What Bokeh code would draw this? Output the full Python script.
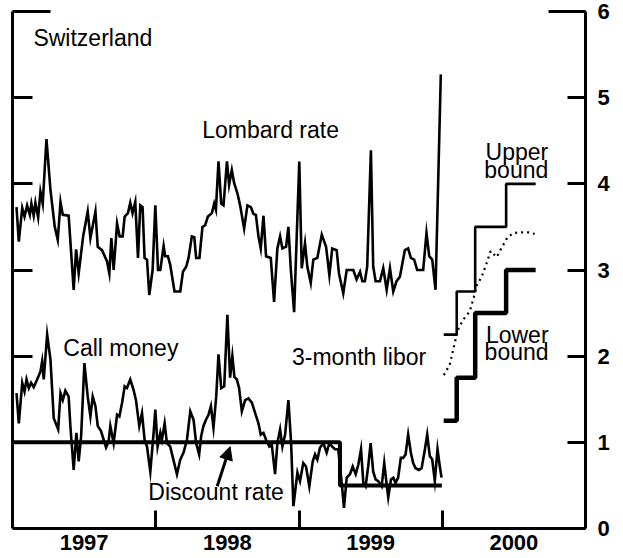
from bokeh.plotting import figure
from bokeh.models import LinearAxis, FixedTicker, Range1d, Arrow, NormalHead
from bokeh.core.properties import value
from bokeh.embed import file_html
from bokeh.resources import INLINE

FONT = "Liberation Sans"

# ---- data (decimal years, percent) ----
lombard_t = [1997.028, 1997.044, 1997.068, 1997.084, 1997.102, 1997.121, 1997.132, 1997.148, 1997.160, 1997.179,
             1997.195, 1997.211, 1997.237, 1997.265, 1997.295, 1997.316, 1997.335, 1997.351, 1997.392, 1997.427,
             1997.444, 1997.462, 1997.493, 1997.525, 1997.544, 1997.579, 1997.595, 1997.625, 1997.660, 1997.676,
             1997.690, 1997.706, 1997.730, 1997.748, 1997.769, 1997.783, 1997.806, 1997.822, 1997.838, 1997.857,
             1997.876, 1997.892, 1997.908, 1997.922, 1997.939, 1997.955, 1997.978, 1997.997, 1998.016, 1998.032,
             1998.055, 1998.066, 1998.085, 1998.101, 1998.131, 1998.171, 1998.190, 1998.213, 1998.229, 1998.252,
             1998.269, 1998.282, 1998.305, 1998.326, 1998.345, 1998.364, 1998.392, 1998.408, 1998.420, 1998.438,
             1998.457, 1998.473, 1998.497, 1998.512, 1998.531, 1998.547, 1998.570, 1998.589, 1998.617, 1998.640,
             1998.664, 1998.682, 1998.699, 1998.717, 1998.733, 1998.752, 1998.770, 1998.803, 1998.826, 1998.849,
             1998.868, 1998.884, 1998.910, 1998.926, 1998.943, 1998.966, 1999.002, 1999.019, 1999.042, 1999.058,
             1999.082, 1999.100, 1999.128, 1999.159, 1999.189, 1999.212, 1999.232, 1999.263, 1999.279, 1999.309,
             1999.333, 1999.379, 1999.402, 1999.426, 1999.442, 1999.460, 1999.476, 1999.502, 1999.518, 1999.535,
             1999.565, 1999.588, 1999.612, 1999.635, 1999.658, 1999.681, 1999.704, 1999.739, 1999.762, 1999.781,
             1999.804, 1999.825, 1999.867, 1999.890, 1999.909, 1999.930, 1999.953, 1999.990]
lombard_v = [3.73, 3.33, 3.72, 3.62, 3.75, 3.64, 3.77, 3.63, 3.78, 3.61,
             3.91, 3.77, 4.52, 3.93, 3.50, 3.35, 3.79, 3.64, 3.63, 2.77,
             3.24, 2.96, 3.39, 3.68, 3.37, 3.68, 3.27, 3.23, 3.10, 2.96,
             3.37, 3.00, 3.54, 3.39, 3.39, 3.62, 3.66, 3.78, 3.66, 3.79,
             3.14, 3.75, 3.73, 3.14, 3.12, 2.71, 3.00, 3.75, 3.00, 3.00,
             3.28, 3.16, 3.16, 3.06, 2.75, 2.75, 2.98, 3.04, 3.14, 3.39,
             3.38, 3.14, 3.14, 3.50, 3.52, 3.62, 3.66, 3.77, 3.70, 4.26,
             3.77, 3.75, 4.26, 3.99, 4.16, 4.01, 3.89, 3.75, 3.48, 3.75,
             3.73, 3.65, 3.64, 3.39, 3.25, 3.63, 3.16, 3.14, 2.63, 3.25,
             3.39, 3.25, 3.27, 3.50, 3.00, 2.51, 4.26, 3.02, 3.31, 3.04,
             2.85, 3.12, 3.14, 3.41, 3.27, 2.94, 3.25, 3.23, 2.96, 2.73,
             3.00, 3.00, 2.89, 2.98, 2.87, 2.87, 3.04, 4.39, 3.04, 2.87,
             2.87, 3.02, 2.77, 3.02, 2.75, 2.87, 2.92, 3.23, 3.25, 3.14,
             3.12, 3.00, 3.00, 3.43, 3.16, 3.12, 2.77, 5.27]

call_t = [1997.028, 1997.044, 1997.068, 1997.084, 1997.098, 1997.114, 1997.130, 1997.148, 1997.172, 1997.195,
          1997.207, 1997.218, 1997.242, 1997.265, 1997.288, 1997.319, 1997.335, 1997.351, 1997.369, 1997.392,
          1997.404, 1997.427, 1997.446, 1997.462, 1997.479, 1997.502, 1997.525, 1997.544, 1997.560, 1997.579,
          1997.595, 1997.618, 1997.653, 1997.671, 1997.683, 1997.706, 1997.730, 1997.746, 1997.765, 1997.783,
          1997.799, 1997.822, 1997.845, 1997.862, 1997.885, 1997.904, 1997.922, 1997.939, 1997.962, 1997.985,
          1997.997, 1998.013, 1998.032, 1998.043, 1998.062, 1998.078, 1998.101, 1998.117, 1998.148, 1998.171,
          1998.194, 1998.218, 1998.241, 1998.264, 1998.282, 1998.303, 1998.317, 1998.333, 1998.350, 1998.368,
          1998.385, 1998.403, 1998.422, 1998.438, 1998.457, 1998.478, 1998.500, 1998.519, 1998.535, 1998.549,
          1998.566, 1998.582, 1998.601, 1998.624, 1998.647, 1998.671, 1998.694, 1998.717, 1998.733, 1998.752,
          1998.770, 1998.793, 1998.810, 1998.833, 1998.849, 1998.868, 1998.884, 1998.903, 1998.926, 1998.945,
          1998.961, 1998.989, 1999.007, 1999.030, 1999.049, 1999.072, 1999.096, 1999.112, 1999.128, 1999.147,
          1999.170, 1999.193, 1999.212, 1999.232, 1999.251, 1999.274, 1999.298, 1999.314, 1999.333, 1999.356,
          1999.375, 1999.396, 1999.414, 1999.433, 1999.449, 1999.465, 1999.483, 1999.500, 1999.518, 1999.535,
          1999.553, 1999.577, 1999.595, 1999.612, 1999.623, 1999.642, 1999.658, 1999.674, 1999.692, 1999.711,
          1999.727, 1999.744, 1999.762, 1999.781, 1999.797, 1999.814, 1999.837, 1999.856, 1999.879, 1999.895,
          1999.913, 1999.930, 1999.948, 1999.967, 1999.983, 1999.995]
call_v = [1.57, 1.22, 1.69, 1.59, 1.73, 1.63, 1.69, 1.64, 1.73, 1.82,
          1.94, 1.73, 2.25, 1.96, 1.28, 1.15, 1.57, 1.49, 1.60, 1.53,
          1.19, 0.68, 1.11, 0.78, 1.07, 1.92, 1.53, 1.30, 1.53, 1.42,
          1.19, 1.13, 0.94, 1.01, 1.19, 0.99, 1.32, 1.30, 1.46, 1.65,
          1.63, 1.73, 1.61, 1.49, 1.19, 1.34, 1.03, 0.95, 0.66, 1.11,
          1.38, 0.95, 1.11, 1.03, 1.22, 0.99, 0.95, 0.84, 0.63, 0.80,
          0.88, 1.03, 1.36, 1.26, 0.99, 0.86, 1.07, 1.19, 1.26, 1.32,
          1.42, 1.17, 1.53, 2.02, 1.63, 1.65, 2.48, 1.75, 2.00, 1.76,
          1.73, 1.63, 1.36, 1.49, 1.51, 1.46, 1.34, 1.22, 1.09, 1.11,
          1.03, 0.95, 0.97, 0.63, 0.99, 1.15, 0.95, 1.09, 1.49, 0.99,
          0.26, 0.65, 0.55, 0.76, 0.72, 0.49, 0.78, 0.86, 0.80, 0.94,
          0.99, 0.88, 0.99, 0.95, 0.92, 0.92, 0.53, 0.24, 0.59, 0.63,
          0.72, 0.63, 0.74, 0.92, 0.53, 0.49, 0.72, 0.99, 0.66, 0.57,
          0.55, 0.49, 0.76, 0.51, 0.36, 0.57, 0.59, 0.53, 0.59, 0.82,
          0.82, 0.86, 1.09, 0.88, 0.76, 0.70, 0.68, 0.70, 0.92, 1.09,
          0.84, 0.80, 0.55, 0.92, 0.72, 0.59]

discount_t = [1997.0, 1999.286, 1999.997]
discount_v = [1.0, 0.5, 0.5]

bound_t = [2000.010, 2000.101, 2000.230, 2000.446, 2000.652]
upper_v = [2.25, 2.75, 3.5, 4.0, 4.0]
lower_v = [1.25, 1.75, 2.5, 3.0, 3.0]

libor_t = [2000.011, 2000.052, 2000.073, 2000.094, 2000.115, 2000.150, 2000.192, 2000.220, 2000.241, 2000.275,
           2000.310, 2000.338, 2000.380, 2000.415, 2000.456, 2000.498, 2000.589, 2000.645]
libor_v = [1.78, 1.90, 2.05, 2.20, 2.33, 2.43, 2.52, 2.68, 2.82, 2.92,
           3.08, 3.22, 3.15, 3.26, 3.38, 3.43, 3.44, 3.42]

year_ticks = [1997.5, 1998.5, 1999.5, 2000.5]
year_labels = ["1997", "1998", "1999", "2000"]
year_bounds = [1998, 1999, 2000]
y_ticks = [0, 1, 2, 3, 4, 5, 6]
left_ticks = [1, 2, 3, 4, 5]
top_cap = (1997.0, 1997.265)

labels_text = ["Switzerland", "Lombard rate", "Call money", "3-month libor", "Discount rate"]
labels_x = [1997.146, 1998.324, 1997.355, 1998.951, 1997.948]
labels_y = [5.69, 4.62, 2.10, 1.99, 0.42]

bound_text = ["Upper", "bound", "Lower", "bound"]
bound_x = [2000.740, 2000.740, 2000.742, 2000.742]
bound_y = [4.37, 4.16, 2.25, 2.05]

# ---- figure ----
p = figure(width=623, height=558, x_range=Range1d(1997, 2001), y_range=Range1d(0, 6),
           output_backend="svg", toolbar_location=None, title=None,
           x_axis_location=None, y_axis_location=None,
           min_border_left=12, min_border_right=38, min_border_top=11, min_border_bottom=30)
p.xgrid.visible = False
p.ygrid.visible = False
p.outline_line_color = None
p.background_fill_color = "white"

AX = dict(axis_line_width=3, axis_line_color="black",
          major_tick_line_width=3, major_tick_line_color="black",
          minor_tick_line_width=3, minor_tick_line_color="black")

left = LinearAxis(ticker=FixedTicker(ticks=[], minor_ticks=left_ticks),
                  major_tick_in=0, major_tick_out=0, minor_tick_in=20, minor_tick_out=0,
                  major_label_standoff=0, **AX)
p.add_layout(left, "left")

top = LinearAxis(ticker=FixedTicker(ticks=[], minor_ticks=[]), bounds=top_cap,
                 major_tick_in=0, major_tick_out=0, minor_tick_in=0, minor_tick_out=0,
                 major_label_standoff=0, **AX)
p.add_layout(top, "above")

right = LinearAxis(ticker=FixedTicker(ticks=y_ticks, minor_ticks=[6]),
                   major_tick_in=18, major_tick_out=0, minor_tick_in=37, minor_tick_out=0,
                   major_label_standoff=12, major_label_text_font=FONT,
                   major_label_text_font_size="22px", major_label_text_font_style="bold",
                   major_label_text_color="black", **AX)
p.add_layout(right, "right")

bottom = LinearAxis(ticker=FixedTicker(ticks=year_ticks, minor_ticks=year_bounds),
                    major_tick_in=0, major_tick_out=0, minor_tick_in=18, minor_tick_out=0,
                    major_label_overrides=dict(zip(year_ticks, year_labels)),
                    major_label_standoff=6, major_label_text_font=FONT,
                    major_label_text_font_size="22px", major_label_text_font_style="bold",
                    major_label_text_color="black", **AX)
p.add_layout(bottom, "below")

p.line(lombard_t, lombard_v, line_color="black", line_width=2.6, line_join="miter")
p.line(call_t, call_v, line_color="black", line_width=2.6, line_join="miter")
p.step(discount_t, discount_v, mode="after", line_color="black", line_width=4)
p.step(bound_t, upper_v, mode="after", line_color="black", line_width=2.6)
p.step(bound_t, lower_v, mode="after", line_color="black", line_width=4.5)
p.line(libor_t, libor_v, line_color="black", line_width=2.2, line_dash="2 4")

p.text(labels_x, labels_y, text=labels_text, text_font=value(FONT), text_font_size="23px",
       text_baseline="middle", text_align="left", text_color="black")
p.text(bound_x, bound_y, text=bound_text, text_font=value(FONT), text_font_size="23px",
       text_baseline="middle", text_align="right", text_color="black")

p.add_layout(Arrow(end=NormalHead(size=13, fill_color="black", line_color="black"),
                   x_start=1998.429, y_start=0.49, x_end=1998.519, y_end=0.95,
                   line_width=3, line_color="black"))

open("out.html", "w").write(file_html(p, INLINE))
